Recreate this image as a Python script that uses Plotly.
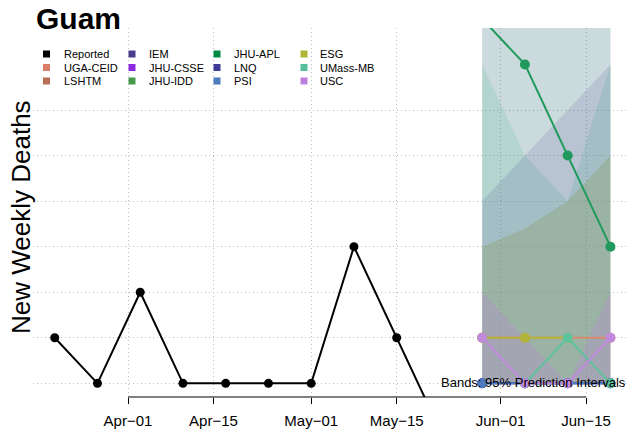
import plotly.graph_objects as go

# ---------------- data ----------------
rep_dates = ['2021-03-20', '2021-03-27', '2021-04-03', '2021-04-10', '2021-04-17',
             '2021-04-24', '2021-05-01', '2021-05-08', '2021-05-15', '2021-05-22']
rep_vals = [1, 0, 2, 0, 0, 0, 0, 3, 1, -1]

fc_dates = ['2021-05-29', '2021-06-05', '2021-06-12', '2021-06-19']

# point forecasts (None = not shown)
uga_point = [1, 1, 1, 1]
iem_point = [0, 0, 0, 0]
apl_point = [8, 7, 5, 3]
lnq_point = [0, 0, 0, 0]
psi_point = [0, 0, 0, 0]
esg_point = [1, 1, 1, None]
umass_point = [None, 0, 1, 0]
usc_point = [1, 0, 0, 1]

# 95% prediction intervals
apl_lower = [2, 1, 0, 2]
apl_upper = [20, 20, 20, 20]
lnq_lower = [0, 0, 0, 0]
lnq_upper = [20, 20, 20, 20]
iem_lower = [0, 0, 0, 0]
iem_upper = [4, 5, 6, 7]
umass_lower = [0, 0, 0, 0]
umass_upper = [7, 5, 4, 7]
esg_lower = [0, 0, 0, 0]
esg_upper = [3, 3.4, 4, 5]
usc_lower = [0, 0, 0, 0]
usc_upper = [2, 1, 0, 2]

tick_vals = ['2021-04-01', '2021-04-15', '2021-05-01', '2021-05-15', '2021-06-01', '2021-06-15']
tick_text = ['Apr\u221201', 'Apr\u221215', 'May\u221201', 'May\u221215', 'Jun\u221201', 'Jun\u221215']

legend_names = ['Reported', 'UGA-CEID', 'LSHTM', 'IEM', 'JHU-CSSE', 'JHU-IDD',
                'JHU-APL', 'LNQ', 'PSI', 'ESG', 'UMass-MB', 'USC']
legend_colors = ['#000000', '#DA8068', '#B76E55', '#483D8B', '#8A2BE2', '#469B4B',
                 '#008844', '#3C3C96', '#4E7ABE', '#B2B637', '#55BE9B', '#BE80E0']
col = dict(zip(legend_names, legend_colors))

# colours of forecast lines/points (slightly lighter, as drawn)
line_color = {
    'UGA-CEID': '#D98A6E', 'IEM': '#5A5096', 'JHU-APL': '#1F9A5C', 'LNQ': '#4A4AA0',
    'PSI': '#4E7ABE', 'ESG': '#B0B43A', 'UMass-MB': '#5CC39C', 'USC': '#C08ADC',
}

# band fill colours (translucent)
band_fill = {
    'JHU-APL': 'rgba(0,136,68,0.12)',
    'LNQ': 'rgba(60,60,150,0.12)',
    'UMass-MB': 'rgba(85,190,155,0.20)',
    'IEM': 'rgba(72,61,139,0.14)',
    'ESG': 'rgba(130,145,70,0.26)',
    'USC': 'rgba(150,110,190,0.26)',
}

# ---------------- layout helpers ----------------
W, H = 628, 435
L, R, T, B = 33, 628, 28, 397


def px(x):
    return (x - L) / (R - L)


def py(y):
    return (B - y) / (B - T)


fig = go.Figure()

bands = [
    ('JHU-APL', apl_lower, apl_upper),
    ('LNQ', lnq_lower, lnq_upper),
    ('UMass-MB', umass_lower, umass_upper),
    ('IEM', iem_lower, iem_upper),
    ('ESG', esg_lower, esg_upper),
    ('USC', usc_lower, usc_upper),
]
for name, lo, up in bands:
    fig.add_trace(go.Scatter(
        x=fc_dates + fc_dates[::-1], y=up + lo[::-1],
        fill='toself', fillcolor=band_fill[name], line=dict(width=0),
        mode='lines', hoverinfo='skip', showlegend=False))

fig.add_trace(go.Scatter(x=rep_dates, y=rep_vals, mode='lines+markers',
                         line=dict(color='black', width=2),
                         marker=dict(color='black', size=9), showlegend=False))

points = [
    ('UGA-CEID', uga_point),
    ('IEM', iem_point),
    ('JHU-APL', apl_point),
    ('LNQ', lnq_point),
    ('PSI', psi_point),
    ('ESG', esg_point),
    ('UMass-MB', umass_point),
    ('USC', usc_point),
]
for name, vals in points:
    fig.add_trace(go.Scatter(x=fc_dates, y=vals, mode='lines+markers',
                             line=dict(color=line_color[name], width=2),
                             marker=dict(color=line_color[name], size=10),
                             connectgaps=False, showlegend=False))

shapes = [dict(type='line', xref='x', yref='paper', x0=tick_vals[0], x1=tick_vals[-1],
               y0=0, y1=0, line=dict(color='black', width=1), layer='above')]
annotations = []

# title and axis title
annotations.append(dict(text='<b>Guam</b>', xref='paper', yref='paper', x=px(34), y=py(19),
                        xanchor='left', yanchor='middle', showarrow=False,
                        font=dict(size=30, color='black', family='Liberation Sans, Arial')))
annotations.append(dict(text='New Weekly Deaths', xref='paper', yref='paper', x=px(21), y=py(217),
                        xanchor='center', yanchor='middle', textangle=-90, showarrow=False,
                        font=dict(size=26, color='black', family='Liberation Sans, Arial')))
annotations.append(dict(text='Bands: 95% Prediction Intervals', xref='paper', yref='paper',
                        x=px(628), y=py(382), xanchor='right', yanchor='middle', showarrow=False,
                        font=dict(size=13, color='black', family='Liberation Sans, Arial')))

# legend (4 columns x 3 rows, column-major)
sw_x = [46.5, 132, 217, 304]
tx_x = [62, 147, 232, 318]
row_y = [54, 67.5, 81]
for i, (name, c) in enumerate(zip(legend_names, legend_colors)):
    ci, ri = divmod(i, 3)
    cx, cy = sw_x[ci], row_y[ri]
    shapes.append(dict(type='rect', xref='paper', yref='paper',
                       x0=px(cx - 3.5), x1=px(cx + 3.5), y0=py(cy + 3.5), y1=py(cy - 3.5),
                       fillcolor=c, line=dict(width=0), layer='above'))
    annotations.append(dict(text=name, xref='paper', yref='paper', x=px(tx_x[ci]), y=py(cy),
                            xanchor='left', yanchor='middle', showarrow=False,
                            font=dict(size=11, color='black', family='Liberation Sans, Arial')))

fig.update_layout(
    width=W, height=H,
    margin=dict(l=L, r=W - R, t=T, b=H - B, pad=0),
    paper_bgcolor='white', plot_bgcolor='white',
    font=dict(family='Liberation Sans, Arial', color='black'),
    shapes=shapes, annotations=annotations, showlegend=False,
    xaxis=dict(type='date', range=['2021-03-16 10:38', '2021-06-21 21:04'],
               tickvals=tick_vals, ticktext=tick_text, ticks='outside', ticklen=6,
               tickcolor='black', tickwidth=1, showline=False, zeroline=False,
               showgrid=True, gridcolor='#BEBEBE', griddash='1px,3px', gridwidth=1,
               tickfont=dict(size=15, color='black'), ticklabelstandoff=4),
    yaxis=dict(range=[-0.3, 7.8], tickvals=[0, 1, 2, 3, 4, 5, 6], showticklabels=False,
               ticks='', showline=False, zeroline=False, showgrid=True,
               gridcolor='#BEBEBE', griddash='1px,3px', gridwidth=1),
)

fig.write_html('out.html', config={'displayModeBar': False},
               post_script="document.body.style.margin='0px';document.body.style.overflow='hidden';")
